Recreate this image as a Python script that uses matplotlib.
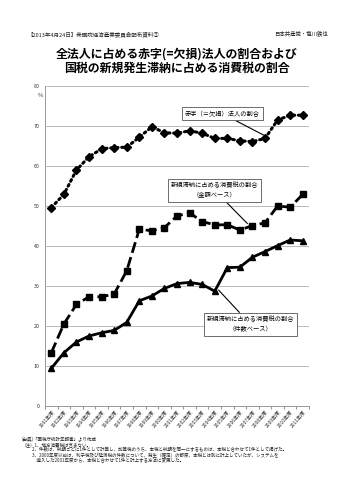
import matplotlib
matplotlib.use("Agg")
import matplotlib.pyplot as plt

plt.rcParams['font.family'] = ['Noto Sans CJK JP', 'DejaVu Sans']

years = [f"{y}年度" for y in range(1991, 2012)]
deficit_ratio = [49.6, 52.9, 59.0, 62.3, 64.3, 64.6, 64.7, 67.2, 69.8, 68.3, 68.2,
                 68.8, 68.2, 66.9, 66.9, 66.3, 66.1, 66.9, 71.5, 72.7, 72.7]
ctax_amount = [13.3, 20.5, 25.4, 27.3, 27.3, 28.0, 33.8, 44.2, 43.8, 44.6, 47.5,
               48.3, 46.1, 45.3, 45.3, 44.0, 45.1, 45.8, 50.0, 49.7, 52.9]
ctax_count = [9.4, 13.3, 16.0, 17.5, 18.3, 18.9, 20.9, 26.3, 27.5, 29.4, 30.6,
              30.9, 30.4, 28.7, 34.6, 34.7, 37.2, 38.6, 40.1, 41.5, 41.3]
y_ticks = [0, 10, 20, 30, 40, 50, 60, 70, 80]

title = "全法人に占める赤字(=欠損)法人の割合および\n国税の新規発生滞納に占める消費税の割合"
header_left = "【2013年4月24日】衆議院経済産業委員会配布資料②"
header_right = "日本共産党・塩川鉄也"
notes = [
    "(出典)「国税庁統計年報書」より作成",
    "（注）1、地方消費税は含まない。",
    "　　 2、件数は、納期ごとに1件として計算し、加算税のうち、本税と納期を同一にするものは、本税と合わせて1件として掲げた。",
    "　　 3、2000年度以前は、利子税及び延滞税の件数について、発生（確定）の都度、本税とは別に計上していたが、システムを",
    "　　　 導入した2001年度から、本税と合わせて1件と計上する方法に変更した。",
]

fig = plt.figure(figsize=(3.53, 5.0), dpi=100)
ax = fig.add_axes([0.1275, 0.188, 0.748, 0.64])

x = list(range(len(years)))
ax.plot(x, deficit_ratio, color='black', lw=2.2, ls=(0, (0.6, 1.2)),
        marker='D', ms=4.4, dash_capstyle='round')
ax.plot(x, ctax_amount, color='black', lw=2.0, ls=(0, (4, 1.6)),
        marker='s', ms=4.4)
ax.plot(x, ctax_count, color='black', lw=2.0, ls='-',
        marker='^', ms=4.8)

ax.set_xlim(-0.5, len(years) - 0.5)
ax.set_ylim(0, 80)
ax.set_yticks(y_ticks)
ax.set_yticklabels([str(v) for v in y_ticks], fontsize=3.8, color='#333333')
ax.set_xticks([i - 0.5 for i in range(len(years) + 1)], minor=False)
ax.set_xticklabels([''] * (len(years) + 1))
ax.set_xticks(x, minor=True)
ax.set_xticklabels(years, minor=True, rotation=50, ha='right', rotation_mode='anchor',
                   fontsize=3.6, color='#333333')
ax.tick_params(axis='x', which='minor', length=0, pad=2)
ax.tick_params(axis='x', which='major', length=2.5, color='#999999')
ax.tick_params(axis='y', length=0, pad=4)
ax.grid(axis='y', color='#bbbbbb', lw=0.7)
ax.set_axisbelow(True)
for s in ['top', 'right']:
    ax.spines[s].set_visible(False)
ax.spines['left'].set_color('#999999')
ax.spines['bottom'].set_color('#999999')
ax.spines['left'].set_linewidth(0.7)
ax.spines['bottom'].set_linewidth(0.7)
ax.text(-0.85, 77.2, "%", fontsize=4.2, color='#333333', ha='center')

box = dict(boxstyle='square,pad=0.45', fc='white', ec='#555555', lw=0.6)
arrow = dict(arrowstyle='-', color='black', lw=0.8, shrinkA=0, shrinkB=0)
ax.annotate("赤字（＝欠損）法人の割合", xy=(16.9, 67.7), xytext=(13.6, 73.1),
            fontsize=4.5, ha='center', va='center', bbox=box, arrowprops=arrow)
ax.annotate("新規滞納に占める消費税の割合\n（金額ベース）", xy=(15.6, 45.6), xytext=(13.0, 53.9),
            fontsize=4.5, ha='center', va='center', bbox=box, arrowprops=arrow,
            linespacing=1.3)
ax.annotate("新規滞納に占める消費税の割合\n（件数ベース）", xy=(13.3, 29.0), xytext=(15.85, 20.4),
            fontsize=4.5, ha='center', va='center', bbox=box, arrowprops=arrow,
            linespacing=1.3)

fig.text(0.076, 0.932, header_left, fontsize=4.0, va='center', color='#222222')
fig.text(0.93, 0.932, header_right, fontsize=3.9, va='center', ha='right', color='#222222')
fig.text(0.5, 0.878, title, fontsize=8.6, fontweight='bold', ha='center', va='center',
         linespacing=1.15)

for i, line in enumerate(notes):
    fig.text(0.062, 0.121 - i * 0.0105, line, fontsize=3.25, va='center', color='#222222')

fig.savefig("out.png", dpi=100)
